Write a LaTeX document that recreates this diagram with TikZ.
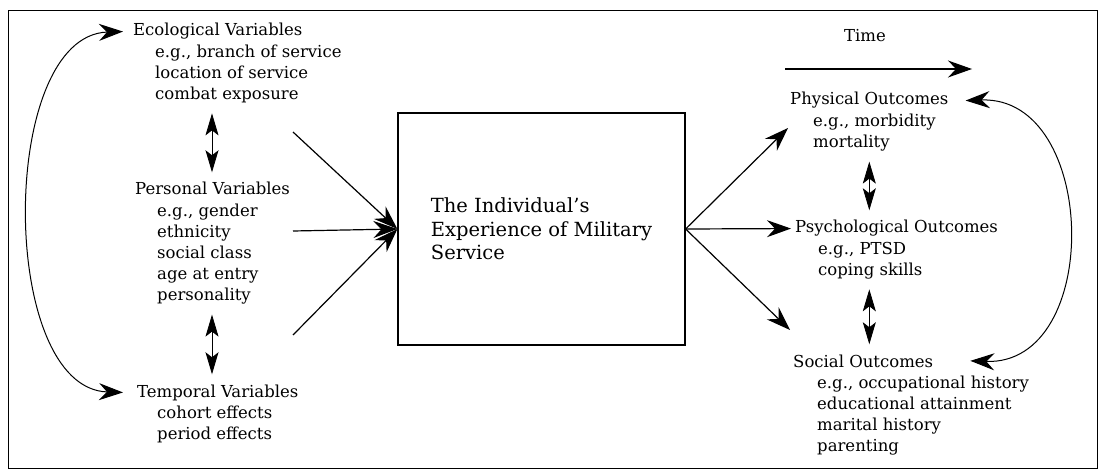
\documentclass[tikz,border=0pt]{standalone}
\usepackage{fontspec}
\setmainfont{DejaVu Serif}
\usetikzlibrary{arrows.meta,calc}
\tikzstyle{head}=[inner sep=0pt, anchor=base west, font=\fontsize{16.5}{21}\selectfont]
\tikzstyle{list}=[inner sep=0pt, anchor=north west, align=left, font=\fontsize{16.5}{21}\selectfont]
\tikzstyle{expbox}=[draw, line width=1.2pt, inner sep=0pt, minimum width=287pt, minimum height=232pt, align=left, font=\fontsize{19.5}{23.5}\selectfont]
\tikzstyle{arr}=[line width=1.2pt, -{Stealth[length=24pt, width=17pt, inset=8pt]}]
\tikzstyle{dbl}=[line width=0.8pt, {Stealth[length=22pt, width=13pt, inset=5pt]}-{Stealth[length=22pt, width=13pt, inset=5pt]}, shorten <=10pt, shorten >=10pt]
\tikzstyle{loop}=[line width=1pt, {Stealth[length=24pt, width=17pt, inset=8pt]}-{Stealth[length=24pt, width=17pt, inset=8pt]}]

\begin{document}
\begin{tikzpicture}[x=1pt,y=-1pt]
\useasboundingbox (0,0) rectangle (1104,476);
\draw[line width=0.8pt] (8,10) rectangle (1097,468);
% left column
\node[head] (ecohead) at (133,36) {Ecological Variables};
\node[list] (ecolist) at ($(ecohead.base west)+(22,9)$) {e.g., branch of service\\location of service\\combat exposure};
\node[head] (perhead) at (135,195) {Personal Variables};
\node[list] (perlist) at ($(perhead.base west)+(22,9)$) {e.g., gender\\ethnicity\\social class\\age at entry\\personality};
\node[head] (temhead) at (137,397) {Temporal Variables};
\node[list] (temlist) at ($(temhead.base west)+(20,9)$) {cohort effects\\period effects};
% the experience
\node[expbox] (exp) at (541.5,229) {The Individual's\\Experience of Military\\Service};
% right column
\node[head, anchor=base] (time) at (865,42) {Time};
\node[head] (phyhead) at (790,105) {Physical Outcomes};
\node[list] (phylist) at ($(phyhead.base west)+(23,9)$) {e.g., morbidity\\mortality};
\node[head] (psyhead) at (795,233) {Psychological Outcomes};
\node[list] (psylist) at ($(psyhead.base west)+(23,9)$) {e.g., PTSD\\coping skills};
\node[head] (sochead) at (793,367) {Social Outcomes};
\node[list] (soclist) at ($(sochead.base west)+(24,9)$) {e.g., occupational history\\educational attainment\\marital history\\parenting};
% free ends
\coordinate (in1) at (293,132);
\coordinate (in2) at (293,231);
\coordinate (in3) at (293,335);
\coordinate (out1) at (788,128);
\coordinate (out3) at (790,330);
\coordinate (t0) at (785,69);
\coordinate (t1) at (972,69);
% arrows
\draw[arr] (in1) -- (exp.west);
\draw[arr] (in2) -- (exp.west);
\draw[arr] (in3) -- (exp.west);
\draw[arr] (exp.east) -- (out1);
\draw[arr] (exp.east) -- ([xshift=-4pt]psyhead.west);
\draw[arr] (exp.east) -- (out3);
\draw[arr] (t0) -- (t1);
\draw[dbl] ([xshift=77pt]perhead.north west |- ecolist.south) -- ([xshift=77pt]perhead.north west);
\draw[dbl] ([xshift=77pt]perhead.north west |- perlist.south) -- ([xshift=77pt]perhead.north west |- temhead.north);
\draw[dbl] (phyhead.north |- phylist.south) -- (phyhead.north |- psyhead.north);
\draw[dbl] (phyhead.north |- psylist.south) -- (phyhead.north |- sochead.north);
\draw[loop] ([xshift=-10pt]ecohead.west) .. controls +(-125,4) and +(-125,-4) .. ([xshift=-14pt]temhead.west);
\draw[loop] ([xshift=17pt]phyhead.east) .. controls +(133,-5) and +(133,5) .. ([xshift=37pt]sochead.east);
\end{tikzpicture}
\end{document}
